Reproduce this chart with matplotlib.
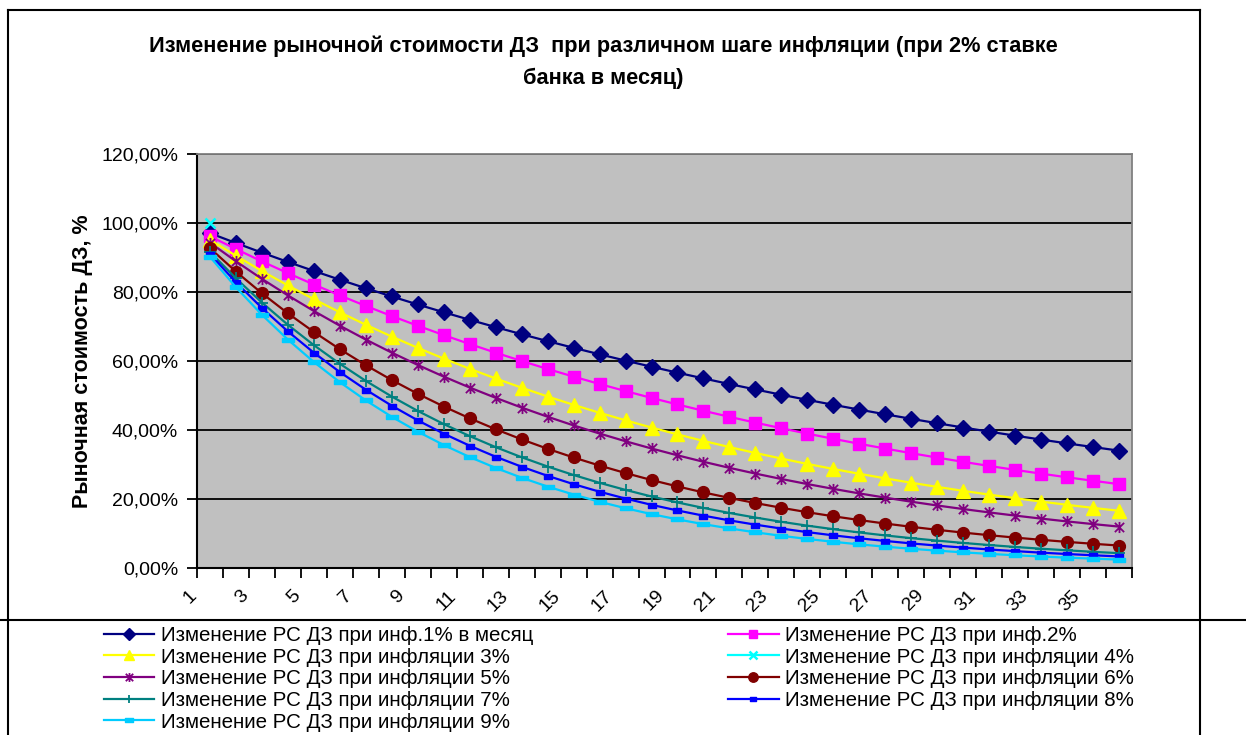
import matplotlib
matplotlib.use("Agg")
import matplotlib.pyplot as plt
import matplotlib.transforms as mtrans
import numpy as np
from matplotlib.path import Path
from matplotlib.lines import Line2D

months = list(range(1, 37))

inf1 = [97.05, 94.19, 91.41, 88.71, 86.10, 83.56, 81.10, 78.70, 76.38, 74.13, 71.94, 69.82,
        67.76, 65.76, 63.82, 61.94, 60.11, 58.34, 56.62, 54.95, 53.32, 51.75, 50.22, 48.74,
        47.30, 45.91, 44.55, 43.24, 41.96, 40.72, 39.52, 38.36, 37.22, 36.12, 35.06, 34.02]
inf2 = [96.15, 92.44, 88.88, 85.46, 82.16, 79.00, 75.96, 73.03, 70.22, 67.51, 64.91, 62.41,
        60.00, 57.69, 55.47, 53.33, 51.28, 49.30, 47.40, 45.57, 43.82, 42.13, 40.51, 38.95,
        37.45, 36.00, 34.62, 33.28, 32.00, 30.77, 29.58, 28.44, 27.35, 26.29, 25.28, 24.31]
inf3 = [95.13, 90.50, 86.09, 81.90, 77.91, 74.12, 70.51, 67.07, 63.81, 60.70, 57.74, 54.93,
        52.26, 49.71, 47.29, 44.99, 42.80, 40.71, 38.73, 36.84, 35.05, 33.34, 31.72, 30.17,
        28.70, 27.31, 25.98, 24.71, 23.51, 22.36, 21.27, 20.24, 19.25, 18.31, 17.42, 16.58]
inf4 = [100.0] + [None] * 35
inf5 = [94.28, 88.89, 83.80, 79.01, 74.49, 70.23, 66.21, 62.42, 58.85, 55.48, 52.31, 49.32,
        46.50, 43.84, 41.33, 38.97, 36.74, 34.64, 32.66, 30.79, 29.03, 27.37, 25.80, 24.33,
        22.94, 21.62, 20.39, 19.22, 18.12, 17.09, 16.11, 15.19, 14.32, 13.50, 12.73, 12.00]
inf6 = [92.69, 85.91, 79.63, 73.81, 68.42, 63.42, 58.78, 54.48, 50.50, 46.81, 43.39, 40.22,
        37.28, 34.55, 32.03, 29.69, 27.52, 25.50, 23.64, 21.91, 20.31, 18.83, 17.45, 16.17,
        14.99, 13.90, 12.88, 11.94, 11.07, 10.26, 9.51, 8.81, 8.17, 7.57, 7.02, 6.51]
inf7 = [91.63, 83.96, 76.93, 70.49, 64.59, 59.19, 54.23, 49.69, 45.53, 41.72, 38.23, 35.03,
        32.10, 29.41, 26.95, 24.69, 22.63, 20.73, 19.00, 17.41, 15.95, 14.62, 13.39, 12.27,
        11.25, 10.30, 9.44, 8.65, 7.93, 7.26, 6.66, 6.10, 5.59, 5.12, 4.69, 4.30]
inf8 = [91.00, 82.81, 75.36, 68.58, 62.40, 56.79, 51.68, 47.03, 42.79, 38.94, 35.44, 32.25,
        29.35, 26.71, 24.30, 22.11, 20.12, 18.31, 16.67, 15.17, 13.80, 12.56, 11.43, 10.40,
        9.46, 8.61, 7.84, 7.13, 6.49, 5.91, 5.37, 4.89, 4.45, 4.05, 3.69, 3.35]
inf9 = [90.20, 81.36, 73.39, 66.20, 59.71, 53.86, 48.58, 43.82, 39.53, 35.65, 32.16, 29.01,
        26.17, 23.60, 21.29, 19.20, 17.32, 15.62, 14.09, 12.71, 11.47, 10.34, 9.33, 8.42,
        7.59, 6.85, 6.18, 5.57, 5.03, 4.53, 4.09, 3.69, 3.33, 3.00, 2.71, 2.44]

labels = ["Изменение РС ДЗ при инф.1% в месяц",
          "Изменение РС ДЗ при инф.2%",
          "Изменение РС ДЗ при инфляции 3%",
          "Изменение РС ДЗ при инфляции 4%",
          "Изменение РС ДЗ при инфляции 5%",
          "Изменение РС ДЗ при инфляции 6%",
          "Изменение РС ДЗ при инфляции 7%",
          "Изменение РС ДЗ при инфляции 8%",
          "Изменение РС ДЗ при инфляции 9%"]
series = [inf1, inf2, inf3, inf4, inf5, inf6, inf7, inf8, inf9]
y_ticks = [0, 20, 40, 60, 80, 100, 120]
x_labels = list(range(1, 37, 2))

title = "Изменение рыночной стоимости ДЗ  при различном шаге инфляции (при 2% ставке\nбанка в месяц)"
ylabel = "Рыночная стоимость ДЗ, %"

plt.rcParams['font.family'] = ['Liberation Sans', 'DejaVu Sans']

star = Path([(-1, -1), (1, 1), (-1, 1), (1, -1), (0, -1.2), (0, 1.2)],
            [Path.MOVETO, Path.LINETO, Path.MOVETO, Path.LINETO, Path.MOVETO, Path.LINETO])
rect8 = Path([(-1, -0.6), (1, -0.6), (1, 0.6), (-1, 0.6), (-1, -0.6)],
             [Path.MOVETO, Path.LINETO, Path.LINETO, Path.LINETO, Path.CLOSEPOLY])
rect9 = Path([(-1, -0.4), (1, -0.4), (1, 0.4), (-1, 0.4), (-1, -0.4)],
             [Path.MOVETO, Path.LINETO, Path.LINETO, Path.LINETO, Path.CLOSEPOLY])

styles = [
    dict(color="#000080", marker="D", ms=8),
    dict(color="#FF00FF", marker="s", ms=8),
    dict(color="#FFFF00", marker="^", ms=9.5),
    dict(color="#00FFFF", marker="x", ms=7, mew=1.8),
    dict(color="#800080", marker=star, ms=8, mew=1.3),
    dict(color="#800000", marker="o", ms=8.5),
    dict(color="#008080", marker="+", ms=8, mew=1.3),
    dict(color="#0000FF", marker=rect8, ms=6),
    dict(color="#00CCFF", marker=rect9, ms=8),
]

fig = plt.figure(figsize=(12.46, 7.35), dpi=100)
ax = fig.add_axes([197/1246, 1-568/735, (1132-197)/1246, (568-154)/735])
ax.set_facecolor("#C0C0C0")

handles = []
for data, lab, st in zip(series, labels, styles):
    y = np.array([np.nan if v is None else v for v in data], dtype=float)
    h, = ax.plot(months, y, color=st["color"], lw=1.6, marker=st["marker"],
                 markersize=st["ms"], markeredgewidth=st.get("mew", 1.0),
                 markerfacecolor=st["color"], markeredgecolor=st["color"], label=lab)
    handles.append(h)

ax.set_xlim(0.5, 36.5)
ax.set_ylim(0, 120)
ax.set_yticks(y_ticks)
ax.set_yticklabels([f"{v:.2f}%".replace(".", ",") for v in y_ticks], fontsize=14)
ax.yaxis.grid(True, color="black", lw=1.3)
ax.set_axisbelow(True)
ax.tick_params(axis="y", direction="out", length=7, width=1.3, pad=6.5)

ax.set_xticks(np.arange(0.5, 37, 1))
ax.set_xticklabels([])
ax.tick_params(axis="x", which="major", direction="out", length=7, width=1.3)
ax.set_xticks(x_labels, minor=True)
ax.set_xticklabels([str(v) for v in x_labels], minor=True, rotation=45,
                   rotation_mode="anchor", ha="right", va="center", fontsize=14)
ax.tick_params(axis="x", which="minor", length=0, pad=18)
shift = mtrans.ScaledTranslation(-16/100, 0, fig.dpi_scale_trans)
for lbl in ax.get_xticklabels(minor=True):
    lbl.set_transform(lbl.get_transform() + shift)

for s in ["top", "right"]:
    ax.spines[s].set_color("#808080")
    ax.spines[s].set_linewidth(1.3)
for s in ["left", "bottom"]:
    ax.spines[s].set_color("black")
    ax.spines[s].set_linewidth(1.5)

ax.set_ylabel(ylabel, fontsize=15.5, fontweight="bold", labelpad=6)

fig.text(603/1246, 1-62/735, title, ha="center", va="center", fontsize=15.7,
         fontweight="bold", linespacing=1.68)

order = [0, 2, 4, 6, 8, 1, 3, 5, 7]
fig.legend([handles[i] for i in order], [labels[i] for i in order], ncol=2,
           loc="upper left", bbox_to_anchor=(104/1246, 1-626/735), frameon=False,
           fontsize=14.8, handlelength=2.45, handletextpad=0.3, columnspacing=9.5,
           labelspacing=0.13, borderpad=0, borderaxespad=0, markerscale=0.8)

# chart frame lines
fig.add_artist(Line2D([8/1246, 8/1246], [0, 1-10/735], transform=fig.transFigure, color="black", lw=1.5))
fig.add_artist(Line2D([8/1246, 1200/1246], [1-10/735, 1-10/735], transform=fig.transFigure, color="black", lw=1.5))
fig.add_artist(Line2D([1200/1246, 1200/1246], [0, 1-10/735], transform=fig.transFigure, color="black", lw=1.5))
fig.add_artist(Line2D([0, 1], [1-620/735, 1-620/735], transform=fig.transFigure, color="black", lw=1.5))

fig.savefig("out.png", dpi=100)
